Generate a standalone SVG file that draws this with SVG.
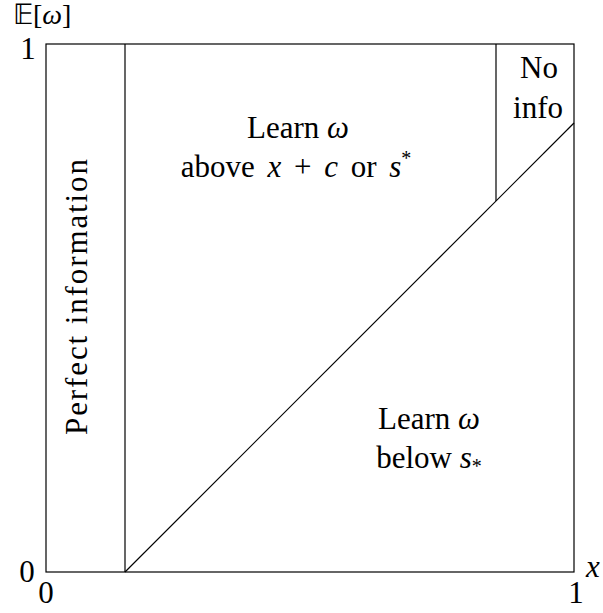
<svg xmlns="http://www.w3.org/2000/svg" width="603" height="613" viewBox="0 0 603 613">
<style>
.ln{stroke:#000;stroke-width:1.2;fill:none}
.t{font-family:'Liberation Serif','Times New Roman',serif;font-size:31px;fill:#000}
.i{font-style:italic}
</style>
<rect width="603" height="613" fill="#fff"/>
<g id="connectors">
<rect class="ln" x="46" y="44" width="528" height="528"/>
<line class="ln" x1="125" y1="44" x2="125" y2="572"/>
<line class="ln" x1="125" y1="572" x2="574" y2="123"/>
<line class="ln" x1="496" y1="44" x2="496" y2="201"/>
</g>
<g class="t">
<g id="axes">
<text x="13" y="24" font-size="28">𝔼[<tspan class="i">ω</tspan>]</text>
<text x="28" y="59" text-anchor="middle">1</text>
<text x="27" y="582" text-anchor="middle">0</text>
<text x="46" y="603" text-anchor="middle">0</text>
<text x="576" y="603" text-anchor="middle">1</text>
<text class="i" x="593" y="577" text-anchor="middle">x</text>
</g>
<g id="perfect">
<text transform="translate(87,297) rotate(-90)" text-anchor="middle" textLength="276" lengthAdjust="spacing">Perfect information</text>
</g>
<g id="above">
<text x="298" y="138" text-anchor="middle">Learn <tspan class="i">ω</tspan></text>
<text x="296" y="177" text-anchor="middle" word-spacing="5">above <tspan class="i">x</tspan> + <tspan class="i">c</tspan> or <tspan class="i">s</tspan><tspan font-size="20" dy="-12">*</tspan></text>
</g>
<g id="noinfo">
<text x="539" y="78" text-anchor="middle">No</text>
<text x="538" y="118" text-anchor="middle">info</text>
</g>
<g id="below">
<text x="429" y="429" text-anchor="middle">Learn <tspan class="i">ω</tspan></text>
<text x="429" y="468" text-anchor="middle">below <tspan class="i">s</tspan><tspan font-size="20" dy="5">*</tspan></text>
</g>
</g>
</svg>
